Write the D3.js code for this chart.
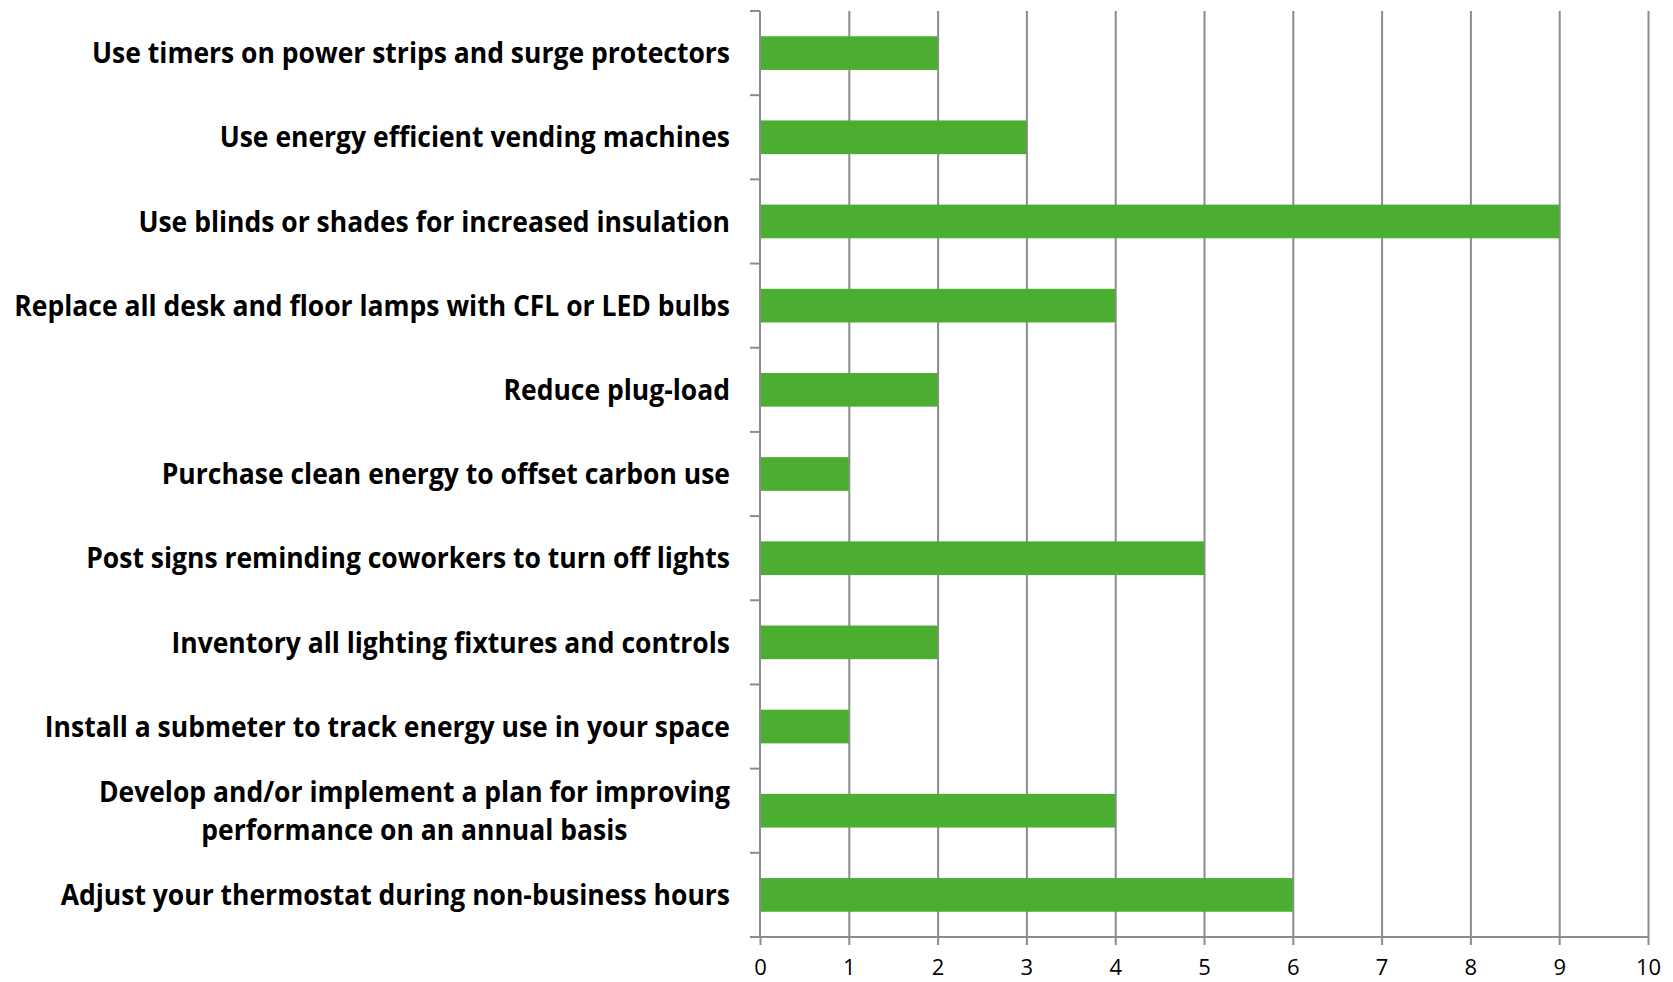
<!DOCTYPE html>
<html>
<head>
<meta charset="utf-8">
<script src="https://cdn.jsdelivr.net/npm/d3@7"></script>
<style>
    html, body { margin: 0; padding: 0; background: #fff; overflow: hidden; }
    svg { display: block; }
    .grid line { stroke: #8c8c8c; stroke-width: 2; }
    .grid .domain { display: none; }
    .xaxis .domain, .xaxis line { stroke: #8c8c8c; stroke-width: 2; }
    .xaxis text { font-family: "Open Sans", sans-serif; font-size: 22px; fill: #000; }
    .label { font-family: "Open Sans", sans-serif; font-weight: 700; font-size: 29px; fill: #000; }
</style>
</head>
<body>
<div id="chart"></div>
<script>
"use strict";

// categories, top to bottom (lines split with "\n")
const categories = [
    "Use timers on power strips and surge protectors",
    "Use energy efficient vending machines",
    "Use blinds or shades for increased insulation",
    "Replace all desk and floor lamps with CFL or LED bulbs",
    "Reduce plug-load",
    "Purchase clean energy to offset carbon use",
    "Post signs reminding coworkers to turn off lights",
    "Inventory all lighting fixtures and controls",
    "Install a submeter to track energy use in your space",
    "Develop and/or implement a plan for improving\nperformance on an annual basis",
    "Adjust your thermostat during non-business hours"
];
const values = [2, 3, 9, 4, 2, 1, 5, 2, 1, 4, 6];
const xTicks = [0, 1, 2, 3, 4, 5, 6, 7, 8, 9, 10];

const W = 1673, H = 982;
const margin = { top: 11, right: 25, bottom: 45, left: 760 };
const width = W - margin.left - margin.right;
const height = H - margin.top - margin.bottom;

const svg = d3.select("#chart").append("svg")
    .attr("width", W)
    .attr("height", H);

const g = svg.append("g")
    .attr("transform", "translate(" + margin.left + "," + margin.top + ")");

const x = d3.scaleLinear().domain([0, 10]).range([0, width]);
const y = d3.scaleBand()
    .domain(categories)
    .range([0, height])
    .paddingInner(0.6)
    .paddingOuter(0.3);

// vertical gridlines
g.append("g")
    .attr("class", "grid")
    .attr("transform", "translate(0," + height + ")")
    .call(d3.axisBottom(x).tickValues(xTicks.slice(1)).tickSize(-height).tickFormat(""));

// bars
g.selectAll("rect.bar")
    .data(categories)
    .enter()
    .append("rect")
    .attr("class", "bar")
    .attr("x", x(0))
    .attr("y", d => y(d))
    .attr("width", (d, i) => x(values[i]) - x(0))
    .attr("height", y.bandwidth())
    .attr("fill", "#4cae30");

// left axis line + boundary ticks (Excel style)
const step = y.step();
const bounds = d3.range(categories.length + 1).map(i => i * step);
g.append("line")
    .attr("x1", 0).attr("x2", 0)
    .attr("y1", 0).attr("y2", height)
    .attr("stroke", "#8c8c8c").attr("stroke-width", 2);
g.selectAll("line.ytick")
    .data(bounds)
    .enter()
    .append("line")
    .attr("class", "ytick")
    .attr("x1", -10).attr("x2", 0)
    .attr("y1", d => d).attr("y2", d => d)
    .attr("stroke", "#8c8c8c").attr("stroke-width", 2);

// bottom axis
const xAxis = g.append("g")
    .attr("class", "xaxis")
    .attr("transform", "translate(0," + height + ")")
    .call(d3.axisBottom(x).tickValues(xTicks).tickSize(8).tickSizeOuter(0).tickFormat(d3.format("d")));
xAxis.select(".domain").attr("d", "M-10,0H" + width);
xAxis.selectAll("text").attr("y", 22).attr("dy", "0.71em");

// category labels, right aligned against the axis
const labelX = -30;
const lineH = 38.5;
const labels = g.selectAll("g.label")
    .data(categories)
    .enter()
    .append("g")
    .attr("class", "label");

labels.each(function(d) {
    const lines = d.split("\n");
    const cy = y(d) + y.bandwidth() / 2;
    const t = d3.select(this).append("text")
        .attr("text-anchor", lines.length > 1 ? "middle" : "end");
    lines.forEach((ln, k) => {
        t.append("tspan")
            .attr("x", 0)
            .attr("y", cy + (k - (lines.length - 1) / 2) * lineH)
            .attr("dy", "0.35em")
            .text(ln);
    });
});

// squeeze the labels a bit to mimic the narrow original font
let maxW = 0;
labels.selectAll("tspan").each(function() {
    maxW = Math.max(maxW, this.getComputedTextLength());
});
const k = 716 / maxW;
labels.each(function(d) {
    const t = d3.select(this).select("text");
    const lines = d.split("\n");
    if (lines.length > 1) {
        let bw = 0;
        t.selectAll("tspan").each(function() { bw = Math.max(bw, this.getComputedTextLength()); });
        d3.select(this).attr("transform", "translate(" + (labelX - bw * k / 2) + ",0) scale(" + k + ",1)");
    } else {
        d3.select(this).attr("transform", "translate(" + labelX + ",0) scale(" + k + ",1)");
    }
});
</script>
</body>
</html>
